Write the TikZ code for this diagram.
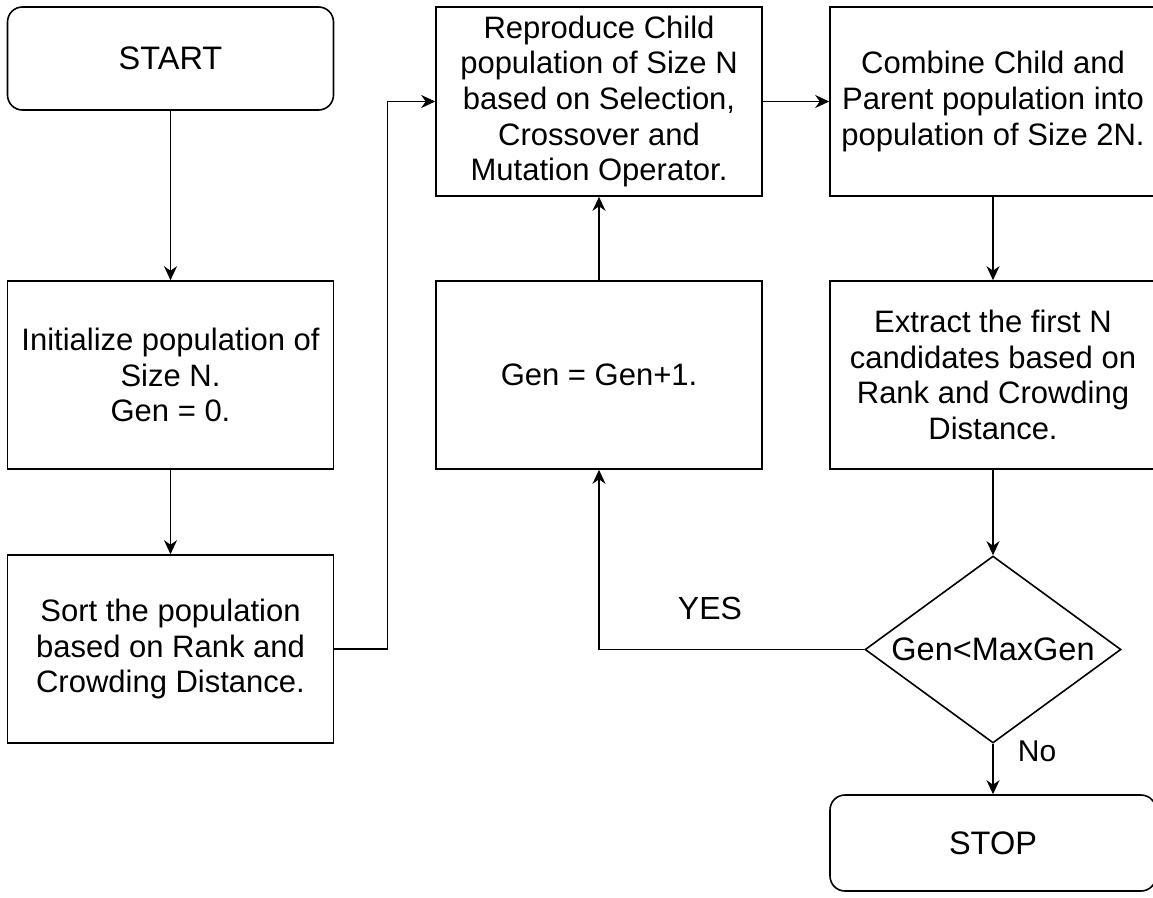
\documentclass[tikz,border=0pt]{standalone}
\usepackage{fontspec}
\setmainfont{Liberation Sans}
\usetikzlibrary{arrows.meta,shapes.geometric}
\begin{document}
\begin{tikzpicture}[x=1pt,y=-1pt,
  box/.style={draw, line width=1.6pt, rectangle, minimum width=326pt, minimum height=188pt, inner sep=0pt, align=center, font=\fontsize{31}{35.7}\selectfont},
  term/.style={box, rounded corners=15pt, minimum height=103pt, font=\fontsize{32.5}{38}\selectfont},
  dec/.style={draw, line width=1.6pt, diamond, shape aspect=1.37, minimum width=256pt, minimum height=187pt, inner sep=0pt, font=\fontsize{32.5}{38}\selectfont},
  arr/.style={line width=1.6pt, -{Stealth[length=14pt,width=13pt,inset=4.5pt]}},
  lbl/.style={inner sep=0pt}]
\useasboundingbox (0,0) rectangle (1153,897);
\fill[white] (0,0) rectangle (1153,897);
\node[term] (start) at (170.5,58.5) {START};
\node[box] (init) at (170.5,375) {Initialize population of\\Size N.\\Gen = 0.};
\node[box] (sort) at (170.5,649) {Sort the population\\based on Rank and\\Crowding Distance.};
\node[box, minimum height=189pt] (repro) at (599,101.5) {Reproduce Child\\population of Size N\\based on Selection,\\Crossover and\\Mutation Operator.};
\node[box] (gen) at (599,375) {Gen = Gen+1.};
\node[box, minimum height=189pt] (comb) at (993,101.5) {Combine Child and\\Parent population into\\population of Size 2N.};
\node[box] (extr) at (993,375) {Extract the first N\\candidates based on\\Rank and Crowding\\Distance.};
\node[dec] (dec) at (993,649.5) {Gen<MaxGen};
\node[term, minimum height=96pt] (stop) at (993,843) {STOP};
\node[lbl, font=\fontsize{32}{38}\selectfont] (yes) at (710,608) {YES};
\node[lbl, font=\fontsize{30}{36}\selectfont] (no) at (1037,751) {No};
\draw[arr] (start) -- (init);
\draw[arr] (init) -- (sort);
\draw[arr] (sort.east) -- ++(53,0) |- (repro.west);
\draw[arr] (repro) -- (comb);
\draw[arr] (comb) -- (extr);
\draw[arr] (extr) -- (dec);
\draw[arr] (gen) -- (repro);
\draw[arr] (dec.west) -| (gen.south);
\draw[arr] (dec.south) -- (stop.north);
\end{tikzpicture}
\end{document}
